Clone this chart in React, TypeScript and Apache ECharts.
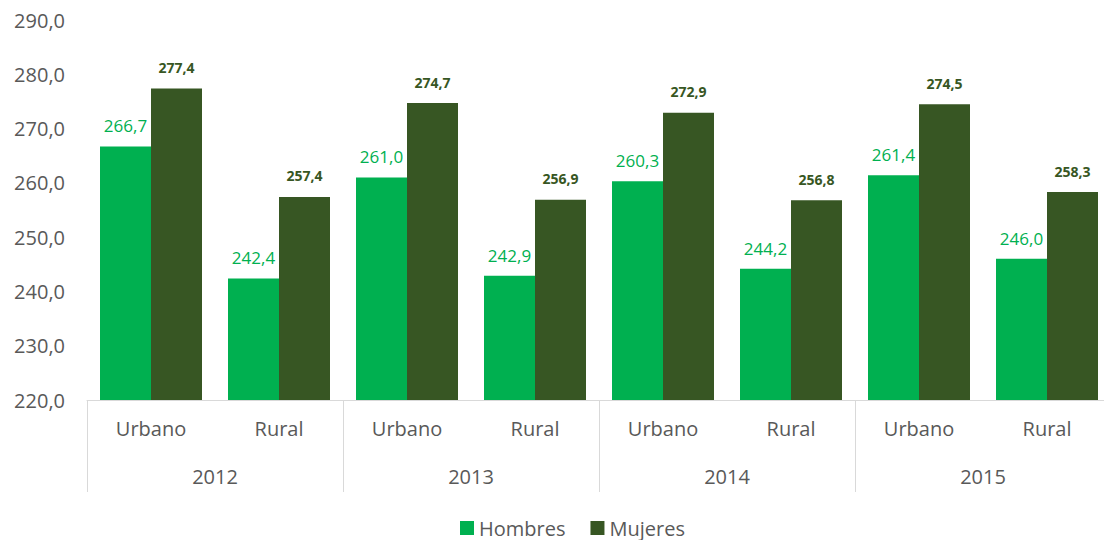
import React, { useEffect, useRef } from "react";
import * as echarts from "echarts";

const categories = ["Urbano", "Rural", "Urbano", "Rural", "Urbano", "Rural", "Urbano", "Rural"];
const years = ["2012", "2013", "2014", "2015"];
const hombres = [266.7, 242.4, 261.0, 242.9, 260.3, 244.2, 261.4, 246.0];
const mujeres = [277.4, 257.4, 274.7, 256.9, 272.9, 256.8, 274.5, 258.3];
const seriesNames = ["Hombres", "Mujeres"];

const FONT = "'Open Sans', 'Noto Sans', sans-serif";
const fmt = (v: number) => v.toFixed(1).replace(".", ",");

export default function App() {
  const ref = useRef<HTMLDivElement>(null);
  useEffect(() => {
    if (!ref.current) return;
    const chart = echarts.init(ref.current, null, { renderer: "svg" });
    chart.setOption({
      animation: false,
      textStyle: { fontFamily: FONT },
      grid: { left: 87, right: 1, top: 20, bottom: 140 },
      legend: {
        left: 455,
        top: 511,
        itemWidth: 14,
        itemHeight: 14,
        itemGap: 25,
        icon: "rect",
        data: seriesNames,
        textStyle: { fontSize: 20, color: "#595959", fontFamily: FONT, lineHeight: 24 },
      },
      yAxis: {
        type: "value",
        min: 220,
        max: 290,
        interval: 10,
        axisLine: { show: false },
        axisTick: { show: false },
        splitLine: { show: false },
        axisLabel: {
          formatter: (v: number) => fmt(v),
          fontSize: 20,
          color: "#595959",
          margin: 22,
          fontFamily: FONT,
        },
      },
      xAxis: [
        {
          type: "category",
          data: categories,
          position: "bottom",
          offset: 0,
          axisLine: { show: true, lineStyle: { color: "#d9d9d9", width: 1 } },
          axisTick: { show: false },
          axisLabel: { fontSize: 20, color: "#595959", margin: 18, interval: 0, fontFamily: FONT },
        },
        {
          type: "category",
          data: years,
          position: "bottom",
          offset: 0,
          axisLine: { show: false },
          axisTick: { show: true, length: 92, interval: 0, lineStyle: { color: "#d9d9d9", width: 1 } },
          axisLabel: { fontSize: 20, color: "#595959", margin: 66, interval: 0, fontFamily: FONT },
        },
      ],
      series: [
        {
          name: seriesNames[0],
          type: "bar",
          xAxisIndex: 0,
          data: hombres,
          barWidth: 51,
          barGap: "0%",
          itemStyle: { color: "#00B050" },
          label: {
            show: true,
            position: "top",
            distance: 12,
            formatter: (p: any) => fmt(p.value),
            color: "#00B050",
            fontSize: 17,
            fontFamily: FONT,
          },
        },
        {
          name: seriesNames[1],
          type: "bar",
          xAxisIndex: 0,
          data: mujeres,
          barWidth: 51,
          barGap: "0%",
          itemStyle: { color: "#375623" },
          label: {
            show: true,
            position: "top",
            distance: 14,
            formatter: (p: any) => fmt(p.value),
            color: "#375623",
            fontSize: 14,
            fontWeight: "bold",
            fontFamily: FONT,
          },
        },
      ],
    });
    return () => chart.dispose();
  }, []);
  return (
    <div style={{ position: "absolute", left: 0, top: 0, width: 1104, height: 540, overflow: "hidden", background: "#fff" }}>
      <div ref={ref} style={{ width: 1112, height: 540 }} />
    </div>
  );
}
